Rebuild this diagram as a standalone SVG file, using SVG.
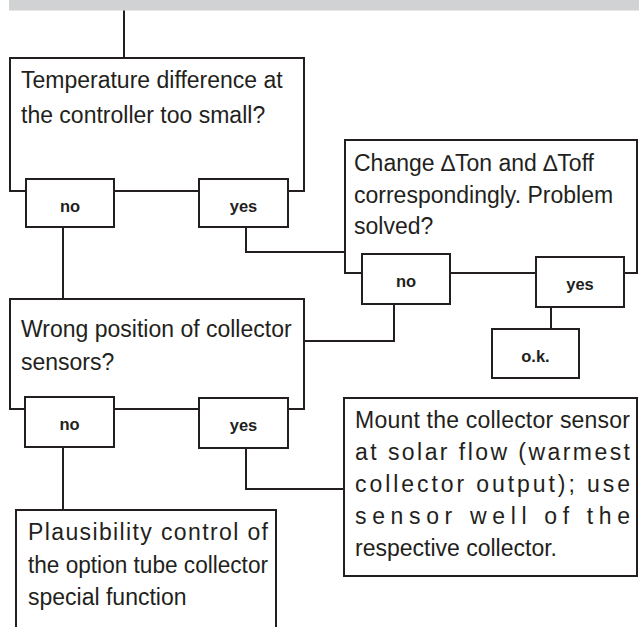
<svg xmlns="http://www.w3.org/2000/svg" width="639" height="627" viewBox="0 0 639 627">
<style>
.box{fill:#fff;stroke:#231f20;stroke-width:2}
.ln{fill:none;stroke:#231f20;stroke-width:2}
.t{font-family:"Liberation Sans",Arial,sans-serif;font-size:23px;fill:#231f20}
.b{font-family:"Liberation Sans",Arial,sans-serif;font-size:16.5px;font-weight:bold;fill:#231f20;text-anchor:middle}
</style>
<rect x="9" y="0" width="630" height="10.5" fill="#d1d2d4"/>
<g id="connectors">
<path class="ln" d="M124,10.5 V58"/>
<path class="ln" d="M63,227 V299"/>
<path class="ln" d="M246,227 V252 H345"/>
<path class="ln" d="M394,304 V341 H304"/>
<path class="ln" d="M551,307 V329"/>
<path class="ln" d="M63,447 V510"/>
<path class="ln" d="M246,448 V489 H344"/>
</g>
<g id="q1">
<rect class="box" x="10" y="58" width="294" height="133"/>
<text class="t" x="21" y="88">Temperature difference at</text>
<text class="t" x="21" y="123">the controller too small?</text>
</g>
<g id="q1-no"><rect class="box" x="26" y="179" width="88" height="48"/><text class="b" x="70" y="212">no</text></g>
<g id="q1-yes"><rect class="box" x="199" y="179" width="89" height="48"/><text class="b" x="243.5" y="212">yes</text></g>
<g id="q2">
<rect class="box" x="345" y="140" width="292" height="133"/>
<text class="t" x="354" y="171">Change ∆Ton and ∆Toff</text>
<text class="t" x="354" y="203">correspondingly. Problem</text>
<text class="t" x="354" y="234">solved?</text>
</g>
<g id="q2-no"><rect class="box" x="362" y="254" width="88" height="50"/><text class="b" x="406" y="287">no</text></g>
<g id="q2-yes"><rect class="box" x="536" y="257" width="88" height="50"/><text class="b" x="580" y="290">yes</text></g>
<g id="ok"><rect class="box" x="492" y="329" width="87" height="49"/><text class="b" x="535.5" y="362">o.k.</text></g>
<g id="q3">
<rect class="box" x="10" y="299" width="294" height="110"/>
<text class="t" x="21" y="337">Wrong position of collector</text>
<text class="t" x="21" y="370">sensors?</text>
</g>
<g id="q3-no"><rect class="box" x="25" y="397" width="89" height="50"/><text class="b" x="69.5" y="430">no</text></g>
<g id="q3-yes"><rect class="box" x="199" y="398" width="89" height="50"/><text class="b" x="243.5" y="431">yes</text></g>
<g id="mount">
<rect class="box" x="344" y="398" width="293" height="178"/>
<text class="t" x="355" y="428" textLength="275" lengthAdjust="spacing">Mount the collector sensor</text>
<text class="t" x="355" y="460" textLength="275" lengthAdjust="spacing">at solar flow (warmest</text>
<text class="t" x="355" y="492" textLength="275" lengthAdjust="spacing">collector output); use</text>
<text class="t" x="355" y="524" textLength="275" lengthAdjust="spacing">sensor well of the</text>
<text class="t" x="355" y="556">respective collector.</text>
</g>
<g id="plausibility">
<path class="box" d="M16,628 V510 H276 V628"/>
<text class="t" x="28" y="540" textLength="240" lengthAdjust="spacing">Plausibility control of</text>
<text class="t" x="28" y="573" textLength="240" lengthAdjust="spacingAndGlyphs">the option tube collector</text>
<text class="t" x="28" y="605">special function</text>
</g>
</svg>
